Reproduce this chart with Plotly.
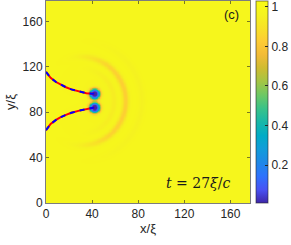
import numpy as np
import plotly.graph_objects as go

# ---- data (units of xi) ----
x_range = [0, 177]
y_range = [0, 178]
x_ticks = [0, 40, 80, 120, 160]
y_ticks = [0, 40, 80, 120, 160]
cbar_ticks = [0.2, 0.4, 0.6, 0.8, 1]
cbar_labels = ["0.2", "0.4", "0.6", "0.8", "1"]
c_min, c_max = 0.008, 1.03

background_level = 0.985
vortex_x = [42.0, 42.0]
vortex_y = [96.2, 84.2]
core_size = 4.8

ring_center = [30.0, 90.0]
ring_radius = [29.0, 39.0, 53.0]
ring_depth = [0.04, 0.15, 0.03]
ring_width = [3.0, 3.0, 3.0]
ring_spread_deg = [75.0, 85.0, 70.0]
inner_dip = 0.02

traj_upper_x = [0, 2, 4, 8.7, 12, 17.3, 22, 28.9, 35, 40.5, 42]
traj_upper_y = [115.5, 112.6, 110.3, 106.6, 104.6, 102.0, 100.1, 98.0, 96.8, 96.3, 96.2]
traj_lower_x = [0, 2, 4, 8.7, 12, 17.3, 22, 28.9, 35, 40.5, 42]
traj_lower_y = [64.2, 67.2, 69.6, 73.2, 75.3, 77.7, 79.5, 81.4, 82.8, 83.9, 84.2]

# ---- build density field from the parameters ----
gx = np.arange(x_range[0], x_range[1] + 0.5, 0.5)
gy = np.arange(y_range[0], y_range[1] + 0.5, 0.5)
X, Y = np.meshgrid(gx, gy)
rho = np.full(X.shape, background_level)
dx = X - ring_center[0]
dy = Y - ring_center[1]
R = np.hypot(dx, dy)
theta = np.degrees(np.arctan2(dy, dx))
rho -= inner_dip * np.exp(-(R / 30.0) ** 4) * np.exp(-(theta / 100.0) ** 2)
for rr, dd, ww, ss in zip(ring_radius, ring_depth, ring_width, ring_spread_deg):
    rho -= dd * np.exp(-((R - rr) / ww) ** 2) * np.exp(-(theta / ss) ** 4)
for vx, vy in zip(vortex_x, vortex_y):
    d = np.hypot(X - vx, Y - vy)
    rho *= np.tanh((d / core_size) ** 2) ** 2

parula = [
    (0.2422, 0.1504, 0.6603), (0.2810, 0.3228, 0.9579), (0.1786, 0.4464, 0.9925),
    (0.1231, 0.5316, 0.9042), (0.0680, 0.6136, 0.8545), (0.0056, 0.6717, 0.7756),
    (0.0894, 0.7185, 0.6587), (0.2254, 0.7624, 0.5365), (0.4244, 0.7836, 0.3968),
    (0.6400, 0.7725, 0.2703), (0.8091, 0.7392, 0.1927), (0.9498, 0.7336, 0.2143),
    (0.9956, 0.7996, 0.2049), (0.9736, 0.8865, 0.1542), (0.9626, 0.9535, 0.1230),
    (0.9769, 0.9839, 0.0805),
]
colorscale = [[i / (len(parula) - 1), "rgb(%d,%d,%d)" % tuple(int(round(c * 255)) for c in p)]
              for i, p in enumerate(parula)]

font_main = "Liberation Sans, Arial, Helvetica, sans-serif"
txt_col = "#262626"

fig = go.Figure()
fig.add_trace(go.Heatmap(
    x=gx, y=gy, z=rho, colorscale=colorscale, zmin=c_min, zmax=c_max,
    zsmooth="best", showscale=True,
    colorbar=dict(
        x=1.029, xanchor="left", xpad=0, y=0.5, yanchor="middle", ypad=0,
        len=1, lenmode="fraction", thickness=12,
        tickvals=cbar_ticks, ticktext=cbar_labels, ticks="inside", ticklen=3,
        tickcolor=txt_col, outlinecolor="rgba(38,38,38,0.6)", outlinewidth=1,
        tickfont=dict(family=font_main, size=12, color=txt_col),
    ),
))
for tx, ty in ((traj_upper_x, traj_upper_y), (traj_lower_x, traj_lower_y)):
    fig.add_trace(go.Scatter(x=tx, y=ty, mode="lines",
                             line=dict(color="rgb(255,0,0)", width=2), hoverinfo="skip", showlegend=False))
    fig.add_trace(go.Scatter(x=tx, y=ty, mode="lines",
                             line=dict(color="rgb(0,0,255)", width=2, dash="5px,5px"), hoverinfo="skip", showlegend=False))

axis_common = dict(
    showline=True, linecolor="rgba(38,38,38,0.6)", linewidth=1, mirror="ticks",
    ticks="inside", ticklen=3, tickcolor="rgba(38,38,38,0.6)",
    showgrid=False, zeroline=False, automargin=False,
    tickfont=dict(family=font_main, size=12, color=txt_col),
)
fig.update_xaxes(range=x_range, tickvals=x_ticks, **axis_common,
                 title=dict(text="x/ξ", font=dict(family=font_main, size=13, color=txt_col), standoff=2))
fig.update_yaxes(range=y_range, tickvals=y_ticks, **axis_common,
                 title=dict(text="y/ξ", font=dict(family=font_main, size=13, color=txt_col), standoff=4))

fig.add_annotation(x=0.955, y=0.935, xref="paper", yref="paper", xanchor="right", yanchor="middle",
                   text="(c)", showarrow=False, font=dict(family=font_main, size=13, color="#1a1a1a"))
fig.add_annotation(x=0.915, y=0.1, xref="paper", yref="paper", xanchor="right", yanchor="middle",
                   text="<i>t</i> = 27<i>ξ</i>/<i>c</i>", showarrow=False,
                   font=dict(family="DejaVu Serif, Liberation Serif, serif", size=14, color="#1a1a1a"))

fig.update_layout(
    width=291, height=245,
    margin=dict(l=46, r=41, t=1, b=42, autoexpand=False),
    paper_bgcolor="white", plot_bgcolor="white",
    showlegend=False,
)
fig.write_html("out.html", config={"displayModeBar": False},
               post_script="document.body.style.margin='0';document.body.style.overflow='hidden';")
